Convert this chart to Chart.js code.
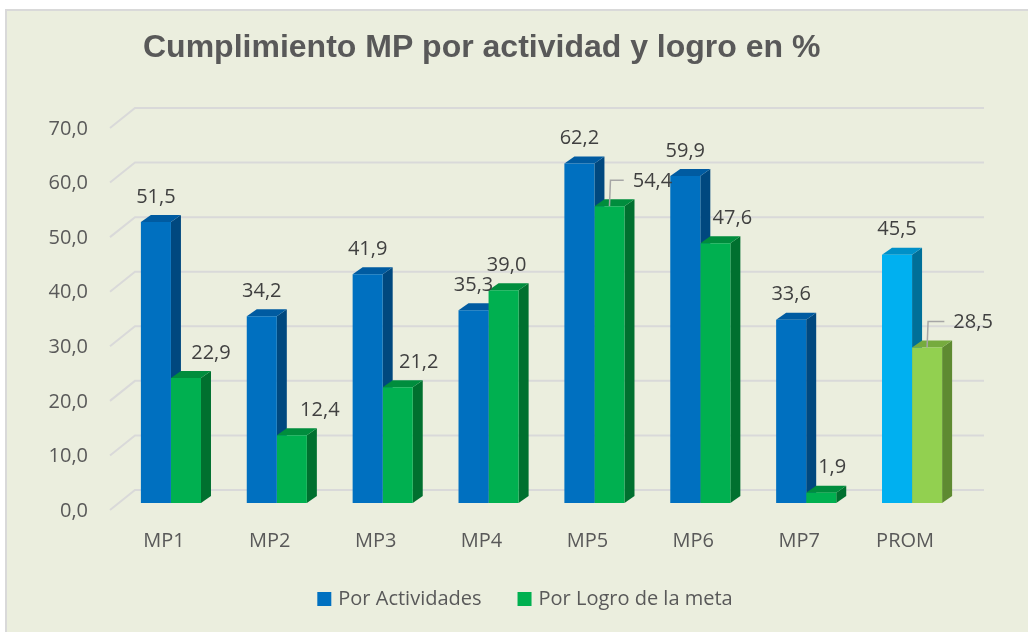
<!DOCTYPE html>
<html>
<head>
<meta charset="utf-8">
<script src="https://cdn.jsdelivr.net/npm/chart.js@4.4.0/dist/chart.umd.min.js"></script>
<style>
  html, body { margin: 0; padding: 0; background: #fff; }
  #frame {
    position: absolute; left: 5px; top: 9px; width: 1023px; height: 623px;
    background: #EBEEDE; border-left: 2px solid #D9D9D9; border-top: 2px solid #D9D9D9;
    box-sizing: border-box;
  }
  #wrap { position: absolute; left: 0; top: 0; width: 1028px; height: 632px; }
</style>
</head>
<body>
<div id="frame"></div>
<div id="wrap"><canvas id="chart" width="1028" height="632"></canvas></div>
<script>
const categories = ['MP1', 'MP2', 'MP3', 'MP4', 'MP5', 'MP6', 'MP7', 'PROM'];
const porActividades = [51.5, 34.2, 41.9, 35.3, 62.2, 59.9, 33.6, 45.5];
const porLogro = [22.9, 12.4, 21.2, 39.0, 54.4, 47.6, 1.9, 28.5];
const seriesNames = ['Por Actividades', 'Por Logro de la meta'];
const yMax = 70;
const yStep = 10;

// colours: normal bars, the PROM bar gets the lighter shades
const blue = { front: '#0070C0', top: '#005BA1', side: '#00487F' };
const blueProm = { front: '#00B0F0', top: '#0090C8', side: '#006F98' };
const green = { front: '#00B050', top: '#008D3D', side: '#00702F' };
const greenProm = { front: '#92D050', top: '#76AB3E', side: '#5E8A31' };
const shade = (base, prom) => categories.map(c => c === 'PROM' ? prom : base);
const faceColors = [shade(blue, blueProm), shade(green, greenProm)];

const fmt = v => v.toFixed(1).replace('.', ',');
const dx = 10, dy = 7;
// horizontal nudge of the green value labels (Excel moved some aside)
const greenLabelShift = [25, 28, 21, 3, 43, 17, 11, 46];

const bar3d = {
  id: 'bar3d',
  beforeDatasetsDraw(chart) {
    const ctx = chart.ctx;
    const ys = chart.scales.y;
    const a = chart.chartArea;
    ctx.save();
    // back wall + floor-edge gridlines
    ctx.strokeStyle = '#D9D9D9';
    ctx.lineWidth = 2;
    ys.ticks.forEach(t => {
      const yf = ys.getPixelForValue(t.value);
      ctx.beginPath();
      ctx.moveTo(a.left - 8, yf + 7);
      ctx.lineTo(a.left + 17, yf - 13);
      ctx.lineTo(a.right + 19, yf - 13);
      ctx.stroke();
    });
    // side and top faces
    for (let i = 0; i < categories.length; i++) {
      chart.data.datasets.forEach((ds, d) => {
        const el = chart.getDatasetMeta(d).data[i];
        const l = el.x - el.width / 2, r = el.x + el.width / 2;
        const top = el.y, base = el.base;
        const c = faceColors[d][i];
        ctx.fillStyle = c.side;
        ctx.beginPath();
        ctx.moveTo(r, top); ctx.lineTo(r + dx, top - dy);
        ctx.lineTo(r + dx, base - dy); ctx.lineTo(r, base);
        ctx.closePath(); ctx.fill();
        ctx.fillStyle = c.top;
        ctx.beginPath();
        ctx.moveTo(l, top); ctx.lineTo(l + dx, top - dy);
        ctx.lineTo(r + dx, top - dy); ctx.lineTo(r, top);
        ctx.closePath(); ctx.fill();
      });
    }
    ctx.restore();
  },
  afterDatasetsDraw(chart) {
    const ctx = chart.ctx;
    ctx.save();
    ctx.font = '20px "Open Sans"';
    ctx.fillStyle = '#404040';
    ctx.textAlign = 'center';
    ctx.textBaseline = 'middle';
    chart.data.datasets.forEach((ds, d) => {
      chart.getDatasetMeta(d).data.forEach((el, i) => {
        const txt = fmt(ds.data[i]);
        const shift = d === 1 ? greenLabelShift[i] : 0;
        const lx = el.x + shift, ly = el.y - 25;
        ctx.fillText(txt, lx, ly);
        if (shift > 35) {
          const w = ctx.measureText(txt).width;
          ctx.strokeStyle = '#A6A6A6';
          ctx.lineWidth = 1.5;
          ctx.beginPath();
          ctx.moveTo(el.x, el.y);
          ctx.lineTo(el.x + 1, ly - 1);
          ctx.lineTo(lx - w / 2 - 9, ly - 1);
          ctx.stroke();
        }
      });
    });
    ctx.restore();
  },
  afterDraw(chart) {
    const ctx = chart.ctx;
    ctx.save();
    // title
    ctx.font = 'bold 32px "Liberation Sans", Arial';
    ctx.fillStyle = '#595959';
    ctx.textAlign = 'left';
    ctx.textBaseline = 'alphabetic';
    ctx.fillText('Cumplimiento MP por actividad y logro en %', 143, 57);
    // legend
    ctx.font = '20px "Open Sans"';
    ctx.textBaseline = 'middle';
    const box = 14, gap = 7, between = 36;
    const widths = seriesNames.map(s => box + gap + ctx.measureText(s).width);
    let x = 525 - (widths[0] + widths[1] + between) / 2;
    seriesNames.forEach((s, d) => {
      ctx.fillStyle = faceColors[d][0].front;
      ctx.fillRect(x, 592, box, box);
      ctx.fillStyle = '#595959';
      ctx.fillText(s, x + box + gap, 599);
      x += widths[d] + between;
    });
    ctx.restore();
  }
};

Chart.defaults.font.family = '"Open Sans", sans-serif';

new Chart(document.getElementById('chart'), {
  type: 'bar',
  data: {
    labels: categories,
    datasets: [
      { label: seriesNames[0], data: porActividades, backgroundColor: faceColors[0].map(c => c.front) },
      { label: seriesNames[1], data: porLogro, backgroundColor: faceColors[1].map(c => c.front) }
    ]
  },
  options: {
    responsive: false,
    animation: false,
    layout: { padding: { left: 0, right: 63, top: 121, bottom: 0 } },
    datasets: { bar: { categoryPercentage: 0.5676, barPercentage: 1 } },
    plugins: { legend: { display: false }, tooltip: { enabled: false }, title: { display: false } },
    scales: {
      x: {
        grid: { display: false, drawTicks: false },
        border: { display: false },
        ticks: { color: '#595959', font: { size: 20 }, padding: 26, labelOffset: -7 },
        afterFit: s => { s.height = 129; }
      },
      y: {
        min: 0, max: yMax,
        grid: { display: false, drawTicks: false },
        border: { display: false },
        ticks: { stepSize: yStep, color: '#595959', font: { size: 20 }, padding: 30, labelOffset: 8,
                 callback: v => fmt(v) },
        afterFit: s => { s.width = 118; }
      }
    }
  },
  plugins: [bar3d]
});
</script>
</body>
</html>
